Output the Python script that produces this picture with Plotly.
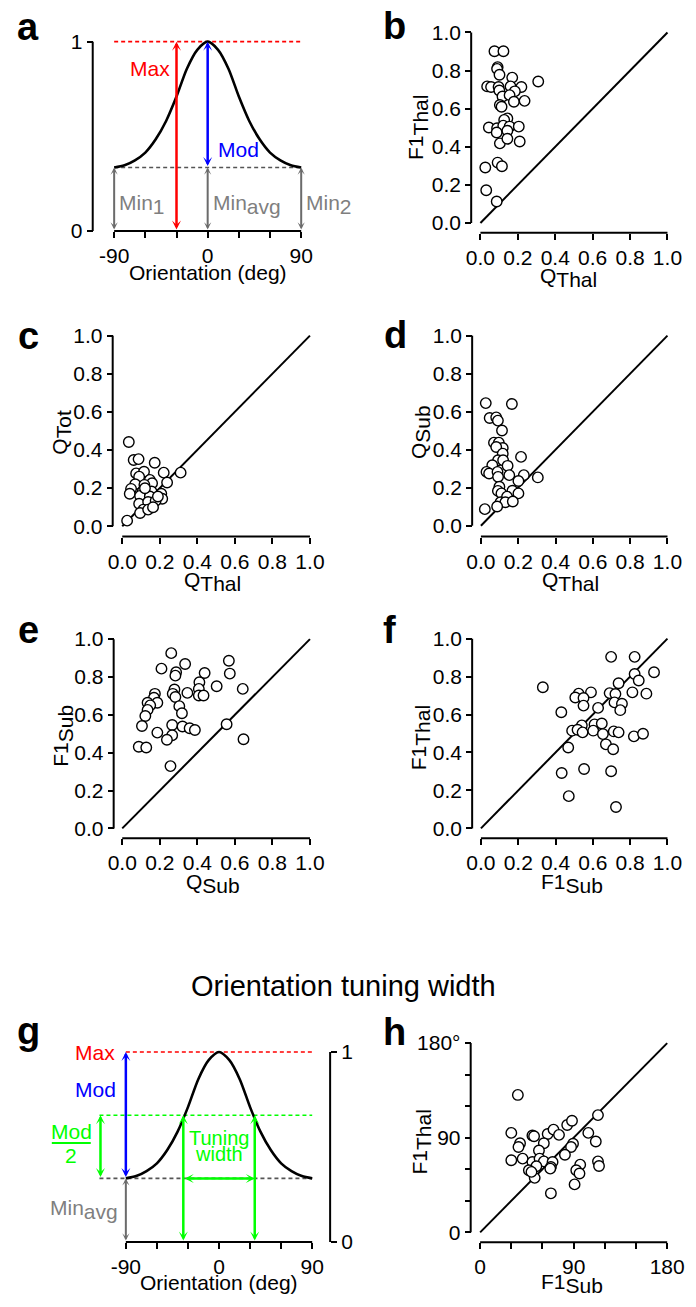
import plotly.graph_objects as go

W, H = 696, 1307
FONT = "Arial, 'Liberation Sans', Helvetica, sans-serif"

# ---------------- data ----------------
# schematic tuning curve, panels a and g
CURVE_ORI = [-90, -80, -70, -60, -50, -40, -30, -20, -10, 0, 10, 20, 30, 40, 50, 60, 70, 80, 90]
CURVE_RESP = [0.335, 0.347, 0.373, 0.414, 0.484, 0.581, 0.71, 0.857, 0.957, 1.0,
              0.957, 0.857, 0.71, 0.581, 0.484, 0.414, 0.373, 0.347, 0.335]
CURVE_MAX = 1.0
CURVE_MIN = 0.335
MAX_ARROW_ORI = -30          # red "Max" arrow in a
HALF_WIDTH = 34.5            # half width at half modulation (g)
MOD2_ARROW_ORI = -114.5      # green Mod/2 arrow in g
DASH_START_G = -115.5        # left end of dashed lines in g
ORI_MAJOR = [-90, 0, 90]
ORI_MINOR = [-60, -30, 30, 60]

# panel b: Q_Thal vs F1_Thal
B_QTHAL = [0.075, 0.123, 0.092, 0.089, 0.102, 0.170, 0.309, 0.036, 0.057, 0.097, 0.161, 0.219,
           0.101, 0.184, 0.118, 0.156, 0.179, 0.236, 0.104, 0.113, 0.144, 0.127, 0.045, 0.089,
           0.122, 0.156, 0.205, 0.087, 0.144, 0.104, 0.144, 0.210, 0.092, 0.115, 0.026, 0.031, 0.087]
B_F1THAL = [0.901, 0.901, 0.818, 0.809, 0.778, 0.763, 0.743, 0.717, 0.714, 0.714, 0.717, 0.714,
            0.695, 0.691, 0.664, 0.671, 0.636, 0.641, 0.619, 0.610, 0.549, 0.541, 0.501, 0.497,
            0.511, 0.506, 0.506, 0.475, 0.484, 0.418, 0.442, 0.428, 0.317, 0.298, 0.291, 0.172, 0.113]

# panel c: Q_Thal vs Q_Tot
C_QTHAL = [0.035, 0.061, 0.087, 0.173, 0.074, 0.116, 0.221, 0.311, 0.090, 0.147, 0.159, 0.239,
           0.069, 0.118, 0.047, 0.040, 0.109, 0.156, 0.208, 0.095, 0.147, 0.213, 0.090, 0.138,
           0.178, 0.112, 0.095, 0.138, 0.164, 0.026, 0.121, 0.190]
C_QTOT = [0.442, 0.347, 0.352, 0.333, 0.277, 0.286, 0.281, 0.281, 0.260, 0.243, 0.225, 0.229,
          0.220, 0.217, 0.196, 0.170, 0.182, 0.182, 0.170, 0.159, 0.156, 0.144, 0.118, 0.127,
          0.133, 0.087, 0.069, 0.087, 0.099, 0.029, 0.199, 0.156]

# panel d: Q_Thal vs Q_Sub
D_QTHAL = [0.026, 0.166, 0.047, 0.082, 0.091, 0.113, 0.070, 0.096, 0.117, 0.082, 0.117, 0.215,
           0.092, 0.061, 0.119, 0.143, 0.030, 0.044, 0.089, 0.152, 0.092, 0.230, 0.305, 0.201,
           0.099, 0.091, 0.110, 0.169, 0.201, 0.140, 0.105, 0.131, 0.171, 0.087, 0.021]
D_QSUB = [0.645, 0.640, 0.567, 0.570, 0.553, 0.501, 0.437, 0.437, 0.409, 0.414, 0.379, 0.362,
          0.344, 0.318, 0.344, 0.315, 0.283, 0.275, 0.283, 0.266, 0.257, 0.266, 0.254, 0.235,
          0.205, 0.183, 0.170, 0.184, 0.170, 0.153, 0.123, 0.123, 0.127, 0.101, 0.087]

# panel e: Q_Sub vs F1_Sub
E_QSUB = [0.261, 0.335, 0.209, 0.568, 0.573, 0.287, 0.283, 0.439, 0.411, 0.503, 0.408, 0.642,
          0.278, 0.347, 0.269, 0.408, 0.433, 0.174, 0.169, 0.283, 0.187, 0.135, 0.149, 0.304,
          0.135, 0.123, 0.318, 0.105, 0.266, 0.321, 0.359, 0.387, 0.556, 0.187, 0.266, 0.238,
          0.088, 0.128, 0.646, 0.257]
E_F1SUB = [0.926, 0.869, 0.844, 0.886, 0.818, 0.825, 0.807, 0.821, 0.772, 0.751, 0.737, 0.737,
           0.734, 0.716, 0.711, 0.702, 0.702, 0.711, 0.690, 0.694, 0.664, 0.664, 0.650, 0.646,
           0.626, 0.594, 0.608, 0.541, 0.546, 0.538, 0.529, 0.520, 0.550, 0.506, 0.492, 0.468,
           0.431, 0.427, 0.471, 0.329]

# panel f: F1_Sub vs F1_Thal
F_F1SUB = [0.698, 0.824, 0.928, 0.824, 0.846, 0.332, 0.738, 0.524, 0.590, 0.690, 0.721, 0.812,
           0.887, 0.506, 0.550, 0.550, 0.628, 0.716, 0.756, 0.747, 0.431, 0.541, 0.609, 0.648,
           0.489, 0.518, 0.545, 0.602, 0.654, 0.712, 0.738, 0.820, 0.869, 0.670, 0.709, 0.468,
           0.433, 0.553, 0.698, 0.471, 0.724]
F_F1THAL = [0.904, 0.904, 0.823, 0.814, 0.779, 0.744, 0.765, 0.710, 0.717, 0.713, 0.708, 0.717,
            0.710, 0.690, 0.687, 0.647, 0.635, 0.664, 0.657, 0.623, 0.612, 0.543, 0.548, 0.553,
            0.515, 0.520, 0.506, 0.515, 0.497, 0.511, 0.506, 0.485, 0.499, 0.443, 0.417, 0.426,
            0.292, 0.313, 0.301, 0.170, 0.113]

# panel h: tuning width (deg), F1_Sub vs F1_Thal
H_SUB = [36.3, 30.0, 50.3, 51.9, 65.0, 70.6, 75.9, 83.8, 88.4, 113.4, 104.1, 111.3, 38.4, 36.9,
         61.3, 89.4, 87.5, 56.6, 81.6, 30.0, 40.9, 50.3, 57.2, 61.3, 69.7, 68.1, 54.1, 46.9,
         67.5, 96.3, 113.4, 114.4, 92.5, 95.6, 52.5, 90.9, 68.1, 49.4]
H_THAL = [130.7, 94.6, 92.1, 91.4, 93.6, 97.7, 92.7, 102.1, 106.2, 111.5, 94.6, 86.4, 84.8, 81.1,
          84.8, 84.2, 81.1, 77.9, 73.8, 68.5, 70.1, 66.9, 70.1, 67.5, 66.9, 62.2, 62.8, 59.1,
          60.6, 64.4, 67.5, 63.1, 59.1, 55.9, 51.8, 45.6, 37.1, 57.5]

UNIT = [0.0, 1.0]
UNIT_TICKS = [0, 0.2, 0.4, 0.6, 0.8, 1.0]
UNIT_TICKTEXT = ["0.0", "0.2", "0.4", "0.6", "0.8", "1.0"]
DEG = [0, 180]
DEG_MAJOR = [0, 90, 180]
DEG_MINOR = [30, 60, 120, 150]
DEG_XTEXT = ["0", "90", "180"]
DEG_YTEXT = ["0", "90", "180°"]

# ---------------- styles ----------------
RED, BLUE, GREEN = "#ff0000", "#0000ff", "#00ff00"
GRAY_ARROW, GRAY_TEXT, GRAY_DASH = "#6b6b6b", "#7f7f7f", "#555555"
TICK_FONT = 21
LABEL_FONT = 21


def lin(v0, p0, v1, p1, p):
    return v0 + (p - p0) * (v1 - v0) / (p1 - p0)


def tick_style(tickvals, ticktext, minor):
    d = dict(showline=False, showgrid=False, zeroline=False,
             ticks="outside", ticklen=6, tickwidth=2, tickcolor="black",
             tickvals=tickvals, ticktext=ticktext,
             tickfont=dict(size=TICK_FONT, color="black"), fixedrange=True)
    if minor:
        d["minor"] = dict(tickvals=minor, ticks="outside", ticklen=6, tickwidth=2,
                          tickcolor="black", showgrid=False)
    return d


def xaxis_cfg(v0, p0, v1, p1, lo, hi, line_px, tickvals, ticktext, minor=None):
    d = dict(domain=[lo / W, hi / W],
             range=[lin(v0, p0, v1, p1, lo), lin(v0, p0, v1, p1, hi)],
             anchor="free", position=1 - line_px / H, side="bottom")
    d.update(tick_style(tickvals, ticktext, minor))
    return d


def yaxis_cfg(v0, p0, v1, p1, top, bottom, line_px, tickvals, ticktext, minor=None, side="left"):
    d = dict(domain=[1 - bottom / H, 1 - top / H],
             range=[lin(v0, p0, v1, p1, bottom), lin(v0, p0, v1, p1, top)],
             anchor="free", position=line_px / W, side=side)
    d.update(tick_style(tickvals, ticktext, minor))
    return d


layout = dict(width=W, height=H, margin=dict(l=0, r=0, t=0, b=0),
              paper_bgcolor="white", plot_bgcolor="white", showlegend=False,
              font=dict(family=FONT, size=LABEL_FONT, color="black"))
shapes, annotations, traces = [], [], []

# panel geometry: x: (value0, px0, value1, px1, area lo, area hi, x-axis line px (y))
#                 y: (value0, px0, value1, px1, area top, area bottom, y-axis line px (x))
panels = {
    "a": (1, (-90, 110, 90, 302, 100, 306, 227), (0, 227, 1, 36, 30, 233, 88)),
    "b": (2, (0, 486, 1, 678, 478, 684, 228.8), (0, 219, 1, 26.7, 20, 225, 476.5)),
    "c": (3, (0, 118.3, 1, 311, 110, 317, 535.5), (0, 525, 1, 332.7, 326, 531, 108.5)),
    "d": (4, (0, 486.5, 1, 678, 478, 684, 535.5), (0, 524.5, 1, 332.7, 326, 531, 477.5)),
    "e": (5, (0, 118.3, 1, 311, 110, 317, 840), (0, 830, 1, 639, 632, 836, 109.5)),
    "f": (6, (0, 486.5, 1, 678, 478, 684, 840), (0, 830, 1, 638.5, 632, 836, 477.5)),
    "g": (7, (-90, 122, 90, 313.3, 86, 318, 1247.5), (0, 1247.5, 1, 1055.7, 1049, 1254, 331.7)),
    "h": (8, (0, 485.7, 180, 677.7, 478, 684, 1247.7), (0, 1237.7, 180, 1046.7, 1040, 1243, 476)),
}

# (x ticks, x labels, x minor, y ticks, y labels, y minor, x extent, y extent)
ticks_for = {
    "a": (ORI_MAJOR, ["-90", "0", "90"], ORI_MINOR, [0, 1], ["0", "1"], None,
          (ORI_MAJOR[0], ORI_MAJOR[-1]), (0, 1)),
    "g": (ORI_MAJOR, ["-90", "0", "90"], ORI_MINOR, [0, 1], ["0", "1"], None,
          (ORI_MAJOR[0], ORI_MAJOR[-1]), (0, 1)),
    "h": (DEG_MAJOR, DEG_XTEXT, DEG_MINOR, DEG_MAJOR, DEG_YTEXT, DEG_MINOR, tuple(DEG), tuple(DEG)),
}
for k in "bcdef":
    ticks_for[k] = (UNIT_TICKS, UNIT_TICKTEXT, None, UNIT_TICKS, UNIT_TICKTEXT, None,
                    tuple(UNIT), tuple(UNIT))

ax_ids = {}
for key, (n, xs, ys) in panels.items():
    xt, xtt, xmin, yt, ytt, ymin, (x0, x1), (y0, y1) = ticks_for[key]
    sfx = "" if n == 1 else str(n)
    layout["xaxis" + sfx] = xaxis_cfg(*xs[:6], xs[6], xt, xtt, xmin)
    layout["yaxis" + sfx] = yaxis_cfg(*ys[:6], ys[6], yt, ytt, ymin,
                                      side="right" if key == "g" else "left")
    xr, yr = "x" + sfx, "y" + sfx
    ax_ids[key] = (xr, yr)
    if key in ("a", "g"):
        shapes.append(dict(type="line", xref=xr, yref=yr, x0=x0, x1=x1, y0=y0, y1=y0,
                           line=dict(color="black", width=2)))
    else:
        shapes.append(dict(type="line", xref=xr, yref="paper", x0=x0, x1=x1,
                           y0=1 - xs[6] / H, y1=1 - xs[6] / H, line=dict(color="black", width=2)))
    shapes.append(dict(type="line", xref="paper", yref=yr, x0=ys[6] / W, x1=ys[6] / W,
                       y0=y0, y1=y1, line=dict(color="black", width=2)))


def scatter(key, xs, ys):
    xr, yr = ax_ids[key]
    traces.append(go.Scatter(x=xs, y=ys, xaxis=xr, yaxis=yr, mode="markers", cliponaxis=False,
                             marker=dict(symbol="circle", size=10.5, color="white",
                                         line=dict(color="black", width=1.4)),
                             hoverinfo="skip"))


def diag(key, rng):
    xr, yr = ax_ids[key]
    traces.append(go.Scatter(x=rng, y=rng, xaxis=xr, yaxis=yr, mode="lines",
                             line=dict(color="black", width=2), hoverinfo="skip"))


def hline(key, x0, x1, y, color, width=1.6):
    xr, yr = ax_ids[key]
    traces.append(go.Scatter(x=[x0, x1], y=[y, y], xaxis=xr, yaxis=yr, mode="lines",
                             line=dict(color=color, width=width, dash="4px,3px"), hoverinfo="skip"))


def arrow(key, x0, y0, x1, y1, color, width=2.5):
    xr, yr = ax_ids[key]
    annotations.append(dict(x=x1, y=y1, ax=x0, ay=y0, xref=xr, yref=yr, axref=xr, ayref=yr,
                            text="", showarrow=True, arrowside="end+start",
                            arrowhead=3, startarrowhead=3, arrowsize=0.6, startarrowsize=0.6,
                            arrowwidth=width, arrowcolor=color, standoff=0, startstandoff=0))


def label(key, x, y, text, color, xanchor="center", xshift=0, yshift=0, size=LABEL_FONT):
    xr, yr = ax_ids[key]
    annotations.append(dict(x=x, y=y, xref=xr, yref=yr, text=text, showarrow=False,
                            xanchor=xanchor, yanchor="middle", xshift=xshift, yshift=yshift,
                            font=dict(size=size, color=color)))


def ptext(xpx, ypx, text, size=LABEL_FONT, color="black", angle=0, bold=False):
    annotations.append(dict(x=xpx / W, y=1 - ypx / H, xref="paper", yref="paper", text=text,
                            showarrow=False, xanchor="center", yanchor="middle", textangle=angle,
                            font=dict(size=size, color=color, family=FONT,
                                      weight=("bold" if bold else "normal"))))


def sub(main, s):
    return f"{main}<sub><span style='font-size:{LABEL_FONT}px'>{s}</span></sub>"


# ---------------- panel a ----------------
xa_, ya_ = ax_ids["a"]
hline("a", CURVE_ORI[0], CURVE_ORI[-1], CURVE_MAX, RED)
hline("a", CURVE_ORI[0], CURVE_ORI[-1], CURVE_MIN, GRAY_DASH)
traces.append(go.Scatter(x=CURVE_ORI, y=CURVE_RESP, xaxis=xa_, yaxis=ya_, mode="lines",
                         line=dict(color="black", width=2.6, shape="spline", smoothing=0.8),
                         hoverinfo="skip"))
arrow("a", MAX_ARROW_ORI, 0, MAX_ARROW_ORI, CURVE_MAX, RED)
arrow("a", 0, CURVE_MIN, 0, CURVE_MAX, BLUE)
for o in (CURVE_ORI[0], 0, CURVE_ORI[-1]):
    arrow("a", o, 0, o, CURVE_MIN, GRAY_ARROW, width=2)
label("a", MAX_ARROW_ORI, 0.86, "Max", RED, xanchor="right", xshift=-5)
label("a", 0, 0.43, "Mod", BLUE, xanchor="left", xshift=8)
label("a", CURVE_ORI[0], 0.14, sub("Min", "1"), GRAY_TEXT, xanchor="left", xshift=3)
label("a", 0, 0.14, sub("Min", "avg"), GRAY_TEXT, xanchor="left", xshift=3)
label("a", CURVE_ORI[-1], 0.14, sub("Min", "2"), GRAY_TEXT, xanchor="left", xshift=3)
ptext(206, 269, "Orientation (deg)")

# ---------------- scatter panels ----------------
for key, xs, ys in (("b", B_QTHAL, B_F1THAL), ("c", C_QTHAL, C_QTOT), ("d", D_QTHAL, D_QSUB),
                    ("e", E_QSUB, E_F1SUB), ("f", F_F1SUB, F_F1THAL)):
    diag(key, UNIT)
    scatter(key, xs, ys)
diag("h", DEG)
scatter("h", H_SUB, H_THAL)

ptext(576, 274, sub("Q", "Thal"))
ptext(422, 123, sub("F1", "Thal"), angle=-90)
ptext(211, 581, sub("Q", "Thal"))
ptext(55, 430, sub("Q", "Tot"), angle=-90)
ptext(578, 581, sub("Q", "Thal"))
ptext(424, 430, sub("Q", "Sub"), angle=-90)
ptext(211, 886, sub("Q", "Sub"))
ptext(57, 737, sub("F1", "Sub"), angle=-90)
ptext(580, 886, sub("F1", "Sub"))
ptext(424, 739, sub("F1", "Thal"), angle=-90)
ptext(580, 1289, sub("F1", "Sub"))
ptext(425, 1147, sub("F1", "Thal"), angle=-90)

# ---------------- panel g ----------------
half = (CURVE_MAX + CURVE_MIN) / 2
xg, yg = ax_ids["g"]
hline("g", CURVE_ORI[0], CURVE_ORI[-1], CURVE_MAX, RED)
hline("g", DASH_START_G, CURVE_ORI[-1], half, GREEN)
hline("g", DASH_START_G, CURVE_ORI[-1], CURVE_MIN, GRAY_DASH)
traces.append(go.Scatter(x=CURVE_ORI, y=CURVE_RESP, xaxis=xg, yaxis=yg, mode="lines",
                         line=dict(color="black", width=2.6, shape="spline", smoothing=0.8),
                         hoverinfo="skip"))
arrow("g", CURVE_ORI[0], CURVE_MIN, CURVE_ORI[0], CURVE_MAX, BLUE)
arrow("g", CURVE_ORI[0], 0, CURVE_ORI[0], CURVE_MIN, GRAY_ARROW, width=2)
arrow("g", MOD2_ARROW_ORI, CURVE_MIN, MOD2_ARROW_ORI, half, GREEN)
arrow("g", -HALF_WIDTH, 0, -HALF_WIDTH, half, GREEN)
arrow("g", HALF_WIDTH, 0, HALF_WIDTH, half, GREEN)
arrow("g", -HALF_WIDTH, CURVE_MIN, HALF_WIDTH, CURVE_MIN, GREEN)
label("g", CURVE_ORI[0], CURVE_MAX, "Max", RED, xanchor="right", xshift=-9)
label("g", CURVE_ORI[0], 0.805, "Mod", BLUE, xanchor="right", xshift=-8)
label("g", CURVE_ORI[0], 0.17, sub("Min", "avg"), GRAY_TEXT, xanchor="right", xshift=-6)
label("g", 0, 0.548, "Tuning", GREEN, size=20)
label("g", 0, 0.462, "width", GREEN, size=20)
ptext(66, 1136, "Mod", color=GREEN)
ptext(66, 1160, "2", color=GREEN)
shapes.append(dict(type="line", xref="paper", yref="paper", x0=46 / W, x1=86 / W,
                   y0=1 - 1147.5 / H, y1=1 - 1147.5 / H, line=dict(color=GREEN, width=2)))
ptext(218, 1288, "Orientation (deg)")

# ---------------- titles / panel letters ----------------
ptext(345, 989, "Orientation tuning width", size=29)
for letter, (lx, ly) in {"a": (22, 21), "b": (398, 20), "c": (22, 333), "d": (399, 332),
                         "e": (22, 630), "f": (393, 630), "g": (22, 1034), "h": (398, 1036)}.items():
    ptext(lx, ly, letter, size=38, bold=True)

layout["shapes"] = shapes
layout["annotations"] = annotations
fig = go.Figure(data=traces, layout=layout)
fig.write_html("out.html", config={"displayModeBar": False},
               post_script="document.body.style.margin='0px';document.body.style.overflow='hidden';")
